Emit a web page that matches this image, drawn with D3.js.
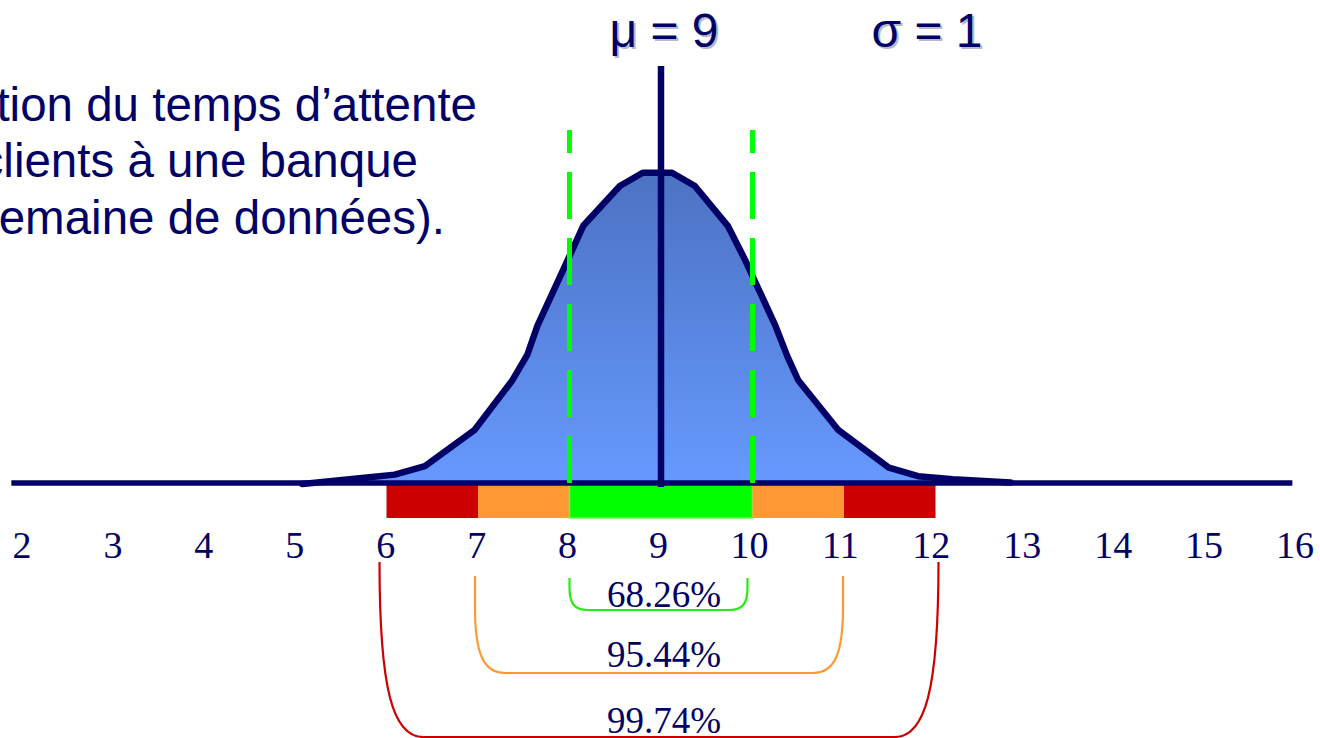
<!DOCTYPE html>
<html>
<head>
<meta charset="utf-8">
<script src="https://cdn.jsdelivr.net/npm/d3@7"></script>
<style>
  html, body { margin: 0; padding: 0; background: #ffffff; overflow: hidden; }
  svg { display: block; }
</style>
</head>
<body>
<svg id="chart" width="1320" height="738"></svg>
<script>
// ---- data ----
const curveX = [5.08, 5.76, 6.09, 6.42, 6.96, 7.37, 7.54, 7.65, 7.98, 8.15, 8.55, 8.80,
                9.12, 9.37, 9.73, 9.92, 10.25, 10.38, 10.50, 10.94, 11.49, 11.81, 12.19, 12.82];
const curveY = [0.000, 0.008, 0.012, 0.023, 0.069, 0.132, 0.166, 0.203, 0.287, 0.331, 0.382, 0.399,
                0.399, 0.382, 0.331, 0.287, 0.203, 0.164, 0.133, 0.069, 0.021, 0.010, 0.006, 0.002];
const tickValues = [2, 3, 4, 5, 6, 7, 8, 9, 10, 11, 12, 13, 14, 15, 16];
const axisExtent = [1.9, 15.9];
const meanValue = 9;
const sigmaValue = 1;
const meanLineTop = 0.536;
const sigmaLineTop = 0.454;
const sigmaLines = [8, 10];
const bandStart = [6, 7, 8, 10, 11];
const bandEnd   = [7, 8, 10, 11, 12];
const bandKind  = ["k3", "k2", "k1", "k2", "k3"];
const bracketStart = [8, 7, 6];
const bracketEnd   = [10, 11, 12];
const bracketLabel = ["68.26%", "95.44%", "99.74%"];
const bracketKind  = ["k1", "k2", "k3"];
const titleLabels = ["\u03bc = 9", "\u03c3 = 1"];
const noteLines = ["tion du temps d\u2019attente", "clients \u00e0 une banque", "emaine de donn\u00e9es)."];

// ---- styles / layout ----
const navy = "#000066";
const bandFill = { k1: "#00ff00", k2: "#ff9933", k3: "#cc0000" };
const bracketStroke = { k1: "#22ee11", k2: "#ff9933", k3: "#cc0000" };
const bracketGeom = {            // top, bottom, corner rx, corner ry, pixel nudges
  k1: { top: 578, bottom: 610, rx: 18, ry: 22, dl: 0, dr: -5 },
  k2: { top: 576, bottom: 673, rx: 30, ry: 66, dl: -3, dr: -1 },
  k3: { top: 562, bottom: 737, rx: 44, ry: 175, dl: -7, dr: 3 }
};
const labelBaseline = { k1: 607, k2: 667, k3: 733 };

const svg = d3.select("#chart");
const x = d3.scaleLinear().domain([9, 10]).range([661, 752.5]);
const y = d3.scaleLinear().domain([0, 0.4]).range([484, 172]);
const xLabel = d3.scaleLinear().domain([2, 16]).range([22, 1295]);

const curve = curveX.map((v, i) => ({ x: v, y: curveY[i] }));

// gradient
const defs = svg.append("defs");
const grad = defs.append("linearGradient").attr("id", "bell")
  .attr("gradientUnits", "userSpaceOnUse")
  .attr("x1", 0).attr("x2", 0).attr("y1", y(0.4)).attr("y2", y(0));
grad.append("stop").attr("offset", 0).attr("stop-color", "#4c72c2");
grad.append("stop").attr("offset", 1).attr("stop-color", "#6699ff");

// area fill
svg.append("path")
  .datum(curve)
  .attr("d", d3.area().x(d => x(d.x)).y0(y(0)).y1(d => y(d.y)).curve(d3.curveLinear))
  .attr("fill", "url(#bell)");

// coloured bands under the axis
const bandTop = y(0) + 1, bandH = 33;
svg.append("g").selectAll("rect")
  .data(bandStart.map((s, i) => ({ s, e: bandEnd[i], k: bandKind[i] })))
  .join("rect")
  .attr("x", d => x(d.s)).attr("width", d => x(d.e) - x(d.s))
  .attr("y", bandTop).attr("height", bandH)
  .attr("fill", d => bandFill[d.k])
  .attr("stroke", d => d.k === "k1" ? "#66ff44" : "none")
  .attr("stroke-width", 1.5);

// baseline
svg.append("line")
  .attr("x1", x(axisExtent[0])).attr("x2", x(axisExtent[1]))
  .attr("y1", y(0) - 1).attr("y2", y(0) - 1)
  .attr("stroke", navy).attr("stroke-width", 5.5);

// curve outline
svg.append("path")
  .datum(curve)
  .attr("d", d3.line().x(d => x(d.x)).y(d => y(d.y)).curve(d3.curveLinear))
  .attr("fill", "none").attr("stroke", navy).attr("stroke-width", 6.5)
  .attr("stroke-linejoin", "round").attr("stroke-linecap", "round");

// sigma dashed lines (drawn bottom-up)
svg.append("g").selectAll("line")
  .data(sigmaLines)
  .join("line")
  .attr("x1", d => x(d)).attr("x2", d => x(d))
  .attr("y1", y(0) - 1).attr("y2", y(sigmaLineTop))
  .attr("stroke", "#00ff00").attr("stroke-width", 5)
  .attr("stroke-dasharray", "47,19");

// mean line
svg.append("line")
  .attr("x1", x(meanValue)).attr("x2", x(meanValue))
  .attr("y1", y(0) + 3).attr("y2", y(meanLineTop))
  .attr("stroke", navy).attr("stroke-width", 6.5);

// tick labels
svg.append("g").selectAll("text")
  .data(tickValues)
  .join("text")
  .attr("x", d => xLabel(d)).attr("y", 558)
  .attr("text-anchor", "middle")
  .attr("font-family", "'Liberation Serif', 'Times New Roman', serif")
  .attr("font-size", 38).attr("fill", navy)
  .text(d => d);

// brackets
const brackets = bracketStart.map((s, i) => ({ s, e: bracketEnd[i], k: bracketKind[i], label: bracketLabel[i] }));
svg.append("g").selectAll("path")
  .data(brackets)
  .join("path")
  .attr("d", d => {
    const g = bracketGeom[d.k];
    const x0 = x(d.s) + g.dl, x1 = x(d.e) + g.dr;
    const p = d3.path();
    p.moveTo(x0, g.top);
    p.lineTo(x0, g.bottom - g.ry);
    p.bezierCurveTo(x0, g.bottom - g.ry * 0.27, x0 + g.rx * 0.3, g.bottom, x0 + g.rx, g.bottom);
    p.lineTo(x1 - g.rx, g.bottom);
    p.bezierCurveTo(x1 - g.rx * 0.3, g.bottom, x1, g.bottom - g.ry * 0.27, x1, g.bottom - g.ry);
    p.lineTo(x1, g.top);
    return p.toString();
  })
  .attr("fill", "none")
  .attr("stroke", d => bracketStroke[d.k])
  .attr("stroke-width", 2.2);

svg.append("g").selectAll("text")
  .data(brackets)
  .join("text")
  .attr("x", d => (x(d.s) + x(d.e)) / 2 + 3)
  .attr("y", d => labelBaseline[d.k])
  .attr("text-anchor", "middle")
  .attr("font-family", "'Liberation Serif', 'Times New Roman', serif")
  .attr("font-size", 37).attr("fill", navy)
  .text(d => d.label);

// title labels with soft shadow
const titlePos = [{ cx: 664, by: 47 }, { cx: 927, by: 47 }];
titleLabels.forEach((t, i) => {
  const g = svg.append("g");
  g.append("text").attr("x", titlePos[i].cx + 2).attr("y", titlePos[i].by + 2)
    .attr("text-anchor", "middle").attr("font-family", "'Liberation Sans', Arial, sans-serif")
    .attr("font-size", 48).attr("fill", "#b8b8c8").text(t);
  g.append("text").attr("x", titlePos[i].cx).attr("y", titlePos[i].by)
    .attr("text-anchor", "middle").attr("font-family", "'Liberation Sans', Arial, sans-serif")
    .attr("font-size", 48).attr("fill", navy).text(t);
});

// note text (clipped at left edge in the original)
const noteRight = [477, 418, 445];
const noteBase = [121, 177, 234];
svg.append("g").selectAll("text")
  .data(noteLines)
  .join("text")
  .attr("x", (d, i) => noteRight[i]).attr("y", (d, i) => noteBase[i])
  .attr("text-anchor", "end")
  .attr("font-family", "'Liberation Sans', Arial, sans-serif")
  .attr("font-size", 47.5).attr("fill", navy)
  .text(d => d);
</script>
</body>
</html>
